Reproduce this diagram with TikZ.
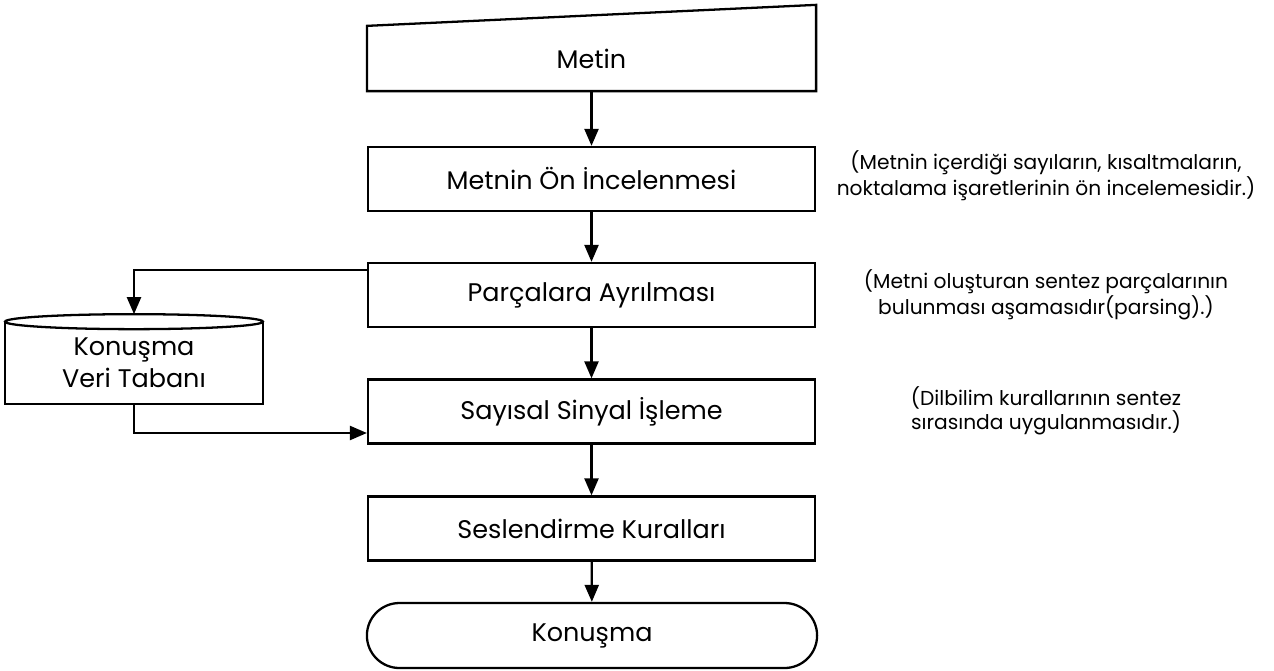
\documentclass[tikz,border=0pt]{standalone}
\usepackage{fontspec}
\setmainfont{Poppins}
\usetikzlibrary{arrows.meta,shapes.misc,positioning}

\begin{document}
\begin{tikzpicture}[x=0.02cm,y=-0.02cm]
\tikzstyle{islem}=[draw, line width=1.3pt, minimum width=8.94cm, minimum height=1.28cm, font=\fontsize{14.5}{18}\selectfont]
\tikzstyle{aciklama}=[align=center, font=\fontsize{11.5}{13.5}\selectfont]
\tikzstyle{ok}=[line width=1.3pt, -{Triangle[length=3.4mm,width=2.8mm]}]

\useasboundingbox (0,0) rectangle (1274,670);

% elle giris
\node[islem, draw=none, minimum height=1.26cm] (metin) at (591.5,58.5) {Metin};
\draw[line width=1.3pt] (metin.south west) -- (metin.north west)
    -- ([yshift=0.42cm]metin.north east) -- (metin.south east) -- cycle;

\node[islem] (oninceleme) at (591.5,179) {Metnin Ön İncelenmesi};
\node[islem] (parcalar) at (591.5,295) {Parçalara Ayrılması};
\node[islem] (sinyal) at (591.5,411.5) {Sayısal Sinyal İşleme};
\node[islem] (kurallar) at (591.5,528.5) {Seslendirme Kuralları};
\node[islem, rounded rectangle, minimum height=1.3cm, minimum width=9.24cm] (konusma) at (592,635.5) {Konuşma};

% veri tabani
\node[font=\fontsize{14.5}{18}\selectfont, align=center, minimum width=5.16cm, minimum height=1.64cm] (veritabani) at (134,363) {Konuşma\\Veri Tabanı};
\draw[line width=1.3pt] (veritabani.north west) -- (veritabani.south west)
    -- (veritabani.south east) -- (veritabani.north east);
\draw[line width=1.3pt] (veritabani.north) ellipse [x radius=2.58cm, y radius=0.15cm];

\draw[ok] (metin) -- (oninceleme);
\draw[ok] (oninceleme) -- (parcalar);
\draw[ok] (parcalar) -- (sinyal);
\draw[ok] (sinyal) -- (kurallar);
\draw[ok] (kurallar) -- (konusma);
\draw[ok] ([yshift=-0.16cm]parcalar.north west) -| ([yshift=0.15cm]veritabani.north);
\draw[ok] (veritabani.south) |- ([yshift=-0.43cm]sinyal.west);

% aciklamalar
\node[aciklama] (not1) at (1046,176) {(Metnin içerdiği sayıların, kısaltmaların,\\noktalama işaretlerinin ön incelemesidir.)};
\node[aciklama] (not2) at (1046,295) {(Metni oluşturan sentez parçalarının\\bulunması aşamasıdır(parsing).)};
\node[aciklama] (not3) at (1046,411) {(Dilbilim kurallarının sentez\\sırasında uygulanmasıdır.)};
\end{tikzpicture}
\end{document}
